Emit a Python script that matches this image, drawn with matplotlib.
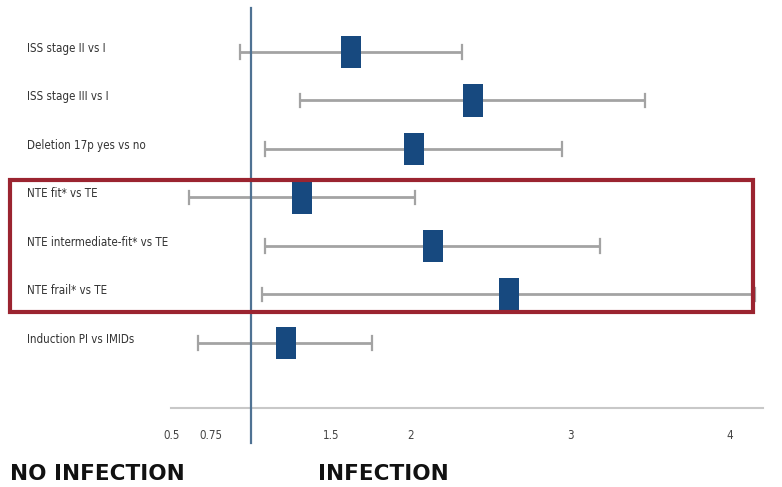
import matplotlib
matplotlib.use("Agg")
import matplotlib.pyplot as plt
from matplotlib.patches import Rectangle
from matplotlib import font_manager

labels = ["ISS stage II vs I", "ISS stage III vs I", "Deletion 17p yes vs no",
          "NTE fit* vs TE", "NTE intermediate-fit* vs TE", "NTE frail* vs TE",
          "Induction PI vs IMIDs"]
hr = [1.63, 2.39, 2.02, 1.32, 2.14, 2.62, 1.22]
lo = [0.93, 1.31, 1.09, 0.61, 1.09, 1.07, 0.67]
hi = [2.32, 3.47, 2.95, 2.03, 3.19, 4.16, 1.76]
tick_vals = [0.5, 0.75, 1.5, 2, 3, 4]
tick_labels = ["0.5", "0.75", "1.5", "2", "3", "4"]

fl = font_manager.fontManager.ttflist
names = {f.name for f in fl}
if "Liberation Sans Narrow" in names:
    lab_font = dict(family=["Liberation Sans Narrow", "DejaVu Sans"], fontsize=10)
elif any(f.name == "DejaVu Sans" and "condensed" in str(f.stretch) for f in fl):
    lab_font = dict(family=["DejaVu Sans"], fontstretch="condensed", fontsize=8.3)
else:
    lab_font = dict(family=["Liberation Sans", "DejaVu Sans"], fontsize=8.3)

W, H = 782, 487
fig = plt.figure(figsize=(W / 100, H / 100), dpi=100)
ax = fig.add_axes([0, 0, 1, 1])
ppu = 159.5
ax.set_xlim(1 - 251 / ppu, 1 + (W - 251) / ppu)
ax.set_ylim((H - 52) / 48.5, -52 / 48.5)
ax.axis("off")

def ypx(p):
    return (p - 52) / 48.5

gray = "#a3a3a3"
blue = "#17497f"
for i in range(len(labels)):
    ax.plot([lo[i], hi[i]], [i, i], color=gray, lw=2, solid_capstyle="butt", zorder=2)
    for v in (lo[i], hi[i]):
        ax.plot([v, v], [i - 0.14, i + 0.14], color=gray, lw=1.6, zorder=2)
    bw = 20 / ppu
    ax.barh(i, bw, left=hr[i] - bw / 2, height=0.68, color=blue, zorder=4)
    ax.text(1 - 224 / ppu, i - 0.08, labels[i], color="#333333", ha="left", va="center",
            **lab_font)

ax.plot([1, 1], [ypx(8), ypx(443)], color="#4f7293", lw=1.6, zorder=3)
ax.plot([1 - 80 / ppu, 1 + 512 / ppu], [ypx(408), ypx(408)], color="#c8c8c8", lw=1.5, zorder=1)
for v, t in zip(tick_vals, tick_labels):
    ax.text(v, ypx(436), t, color="#444444", ha="center", va="center", **lab_font)

fig.patches.append(Rectangle((10 / W, 1 - 312 / H), (753 - 10) / W, (312 - 180) / H,
                             transform=fig.transFigure, fill=False, edgecolor="#9b2430",
                             lw=3, zorder=10))

fig.text(10 / W, 1 - 474 / H, "NO INFECTION", fontsize=15.5, fontweight="bold",
         family="DejaVu Sans", color="#111111", ha="left", va="center")
fig.text(318 / W, 1 - 474 / H, "INFECTION", fontsize=15.5, fontweight="bold",
         family="DejaVu Sans", color="#111111", ha="left", va="center")

fig.savefig("out.png", dpi=100, facecolor="white")
